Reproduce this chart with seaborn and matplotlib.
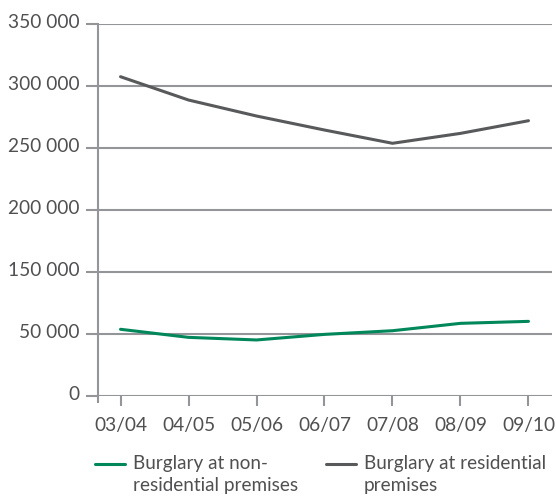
import numpy as np
import pandas as pd
import matplotlib
matplotlib.use('Agg')
import matplotlib.pyplot as plt
import matplotlib.transforms as mtransforms
import seaborn as sns

# Data
years = ['03/04', '04/05', '05/06', '06/07', '07/08', '08/09', '09/10']
non_residential = [57600, 47300, 45200, 49700, 55300, 67200, 70400]
residential = [307500, 288700, 275800, 264500, 253800, 261800, 272000]
series_names = ['Burglary at non-\nresidential premises', 'Burglary at residential\npremises']
ytick_values = [0, 50000, 150000, 200000, 250000, 300000, 350000]
ytick_labels = ['0', '50 000', '150 000', '200 000', '250 000', '300 000', '350 000']

df = pd.DataFrame({
    'year': years * 2,
    'value': non_residential + residential,
    'series': [series_names[0]] * len(years) + [series_names[1]] * len(years),
})
df['x'] = np.tile(np.arange(len(years)), 2)

GREEN = '#00875a'
DARK = '#58595b'
GRID = '#939598'
TEXT = '#505052'

sns.set_style('white')
plt.rcParams['font.family'] = ['Lato', 'DejaVu Sans']

# the original axis skips 100 000: 50 000 -> 150 000 shares one grid step
data_pts = np.array([0, 50000, 150000, 350000])
disp_pts = np.array([0, 50000, 100000, 300000])


def fwd(v):
    v = np.asarray(v, dtype=float)
    out = np.interp(v, data_pts, disp_pts)
    out = np.where(v < 0, v, out)
    out = np.where(v > data_pts[-1], v - 50000, out)
    return out


def inv(d):
    d = np.asarray(d, dtype=float)
    out = np.interp(d, disp_pts, data_pts)
    out = np.where(d < 0, d, out)
    out = np.where(d > disp_pts[-1], d + 50000, out)
    return out


fig = plt.figure(figsize=(5.56, 4.97), dpi=100)
ax = fig.add_axes([0.1763, 0.2032, 0.8165, 0.7485])
ax.set_yscale('function', functions=(fwd, inv))

sns.lineplot(data=df, x='x', y='value', hue='series',
             palette=[GREEN, DARK], linewidth=2.2, ax=ax, legend=False)

ax.set_xlim(-0.331, 6.346)
ax.set_ylim(0, 350000)

for s in ['top', 'right', 'bottom']:
    ax.spines[s].set_visible(False)
ax.spines['left'].set_color(GRID)
ax.spines['left'].set_linewidth(1.5)

ax.set_yticks(ytick_values)
ax.set_yticklabels(ytick_labels)
ax.yaxis.grid(True, color=GRID, linewidth=1.5)
ax.set_axisbelow(True)
ax.tick_params(axis='y', direction='out', length=8.6, width=1.5, color=GRID,
               labelsize=13.8, labelcolor=TEXT, pad=5, left=True)
# labels sit a little above their grid lines in the original
lift = mtransforms.ScaledTranslation(0, 3.5 / 100, fig.dpi_scale_trans)
for lab in ax.get_yticklabels():
    lab.set_transform(lab.get_transform() + lift)

ax.set_xticks(range(len(years)))
ax.set_xticklabels(years)
ax.set_xticks([-0.331], minor=True)
ax.tick_params(axis='x', which='major', direction='out', length=7.2, width=1.5,
               color=GRID, labelsize=13.8, labelcolor=TEXT, pad=8, bottom=True)
ax.tick_params(axis='x', which='minor', direction='out', length=5, width=1.5,
               color=GRID, bottom=True)
ax.set_xlabel('')
ax.set_ylabel('')

handles = [plt.Line2D([], [], color=GREEN, linewidth=2.2),
           plt.Line2D([], [], color=DARK, linewidth=2.2)]
leg = fig.legend(handles, series_names, loc='upper left',
                 bbox_to_anchor=(0.171, 0.084), ncol=2, frameon=False,
                 fontsize=13.6, handlelength=1.6, handletextpad=0.42,
                 columnspacing=1.45, borderaxespad=0, borderpad=0,
                 labelspacing=0.2)
for t in leg.get_texts():
    t.set_color(TEXT)
    t.set_linespacing(1.32)
# keep the legend key level with the first line of its label
for line in leg.get_lines():
    line.set_ydata(np.asarray(line.get_ydata()) + 7.5)

fig.savefig('out.png', dpi=100)
